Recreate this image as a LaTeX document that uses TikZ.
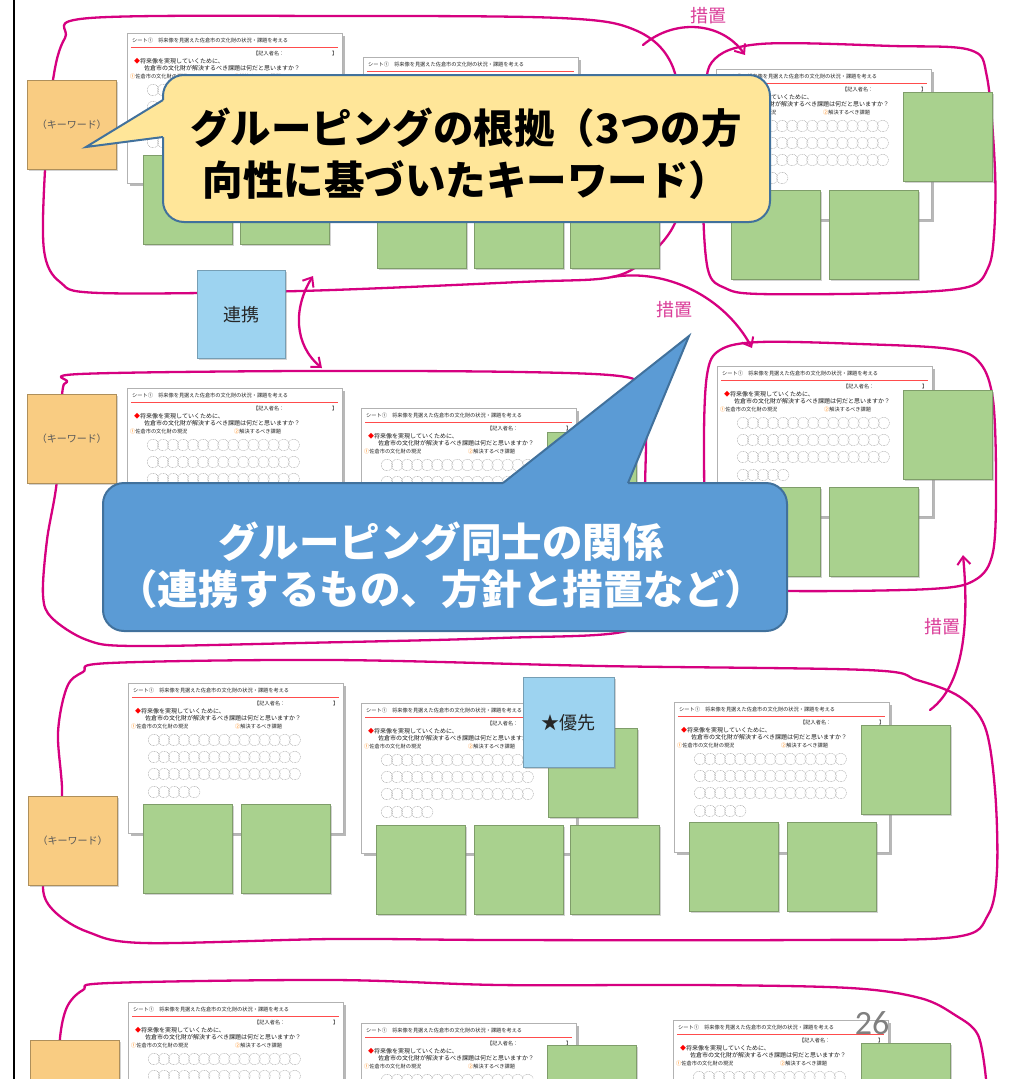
\documentclass[tikz,border=0pt]{standalone}
\usepackage{fontspec}
\setmainfont{Noto Sans CJK JP}
\newfontfamily\carl{Carlito}
\usetikzlibrary{shadows,arrows.meta}
\definecolor{magc}{RGB}{214,0,128}
\definecolor{magt}{RGB}{218,60,152}
\definecolor{noteg}{RGB}{169,209,142}
\definecolor{kwc}{RGB}{249,204,130}
\definecolor{lblue}{RGB}{157,211,240}
\definecolor{cyel}{RGB}{255,230,153}
\definecolor{cblue}{RGB}{91,155,213}
\definecolor{cbord}{RGB}{65,113,156}
\tikzset{
  magline/.style={draw=magc, line width=2.3pt, line cap=round, line join=round},
  magarrow/.style={magline, -{Straight Barb[length=8pt,width=13pt,line width=2pt]}},
  sheetbox/.style={draw=black!30, line width=0.5pt, fill=white, minimum width=215pt, minimum height=150pt,
    anchor=north west, inner sep=0pt,
    drop shadow={shadow xshift=3pt, shadow yshift=-3pt, fill=black!55, opacity=0.5}},
  wsA/.style={anchor=west, inner sep=0pt, font=\fontsize{5.2}{6}\selectfont, text=black!85},
  wsB/.style={anchor=west, inner sep=0pt, font=\fontsize{6}{7}\selectfont, text=black!90},
  circ/.style={draw=black!40, line width=0.35pt, dash pattern=on 0.9pt off 0.7pt},
  gnote/.style={fill=noteg, draw=noteg!75!black, line width=0.4pt, minimum width=89pt, minimum height=89pt,
    anchor=north west, inner sep=0pt,
    drop shadow={shadow xshift=2pt, shadow yshift=-2pt, fill=black!50, opacity=0.35}},
  kwnote/.style={fill=kwc, draw=kwc!70!black, line width=0.5pt, minimum width=89pt, minimum height=89pt,
    anchor=north west, inner sep=0pt, font=\fontsize{10}{10}\selectfont, text=black!65,
    drop shadow={shadow xshift=2pt, shadow yshift=-2pt, fill=black!50, opacity=0.35}},
  bnote/.style={fill=lblue, draw=lblue!75!black, line width=0.4pt, minimum width=88pt, minimum height=88pt,
    anchor=north west, inner sep=0pt, font=\fontsize{18}{18}\selectfont, text=black!85,
    drop shadow={shadow xshift=2pt, shadow yshift=-2pt, fill=black!50, opacity=0.35}},
  sochi/.style={text=magt, font=\fontsize{18}{18}\selectfont, inner sep=0pt},
  callbox/.style={draw=cbord, line width=2pt, rounded corners=21pt, inner sep=0pt}
}
\newcommand{\wsheet}[3]{%
  \node[sheetbox] (#1) at (#2,#3) {};
  \begin{scope}[shift={(#2,#3)}]
    \node[wsA] (#1h) at (5,8) {シート①　将来像を見据えた佐倉市の文化財の状況・課題を考える};
    \draw[red!70, line width=0.7pt] (4,14.5) -- (211,14.5);
    \node[wsA] (#1n) at (126,21) {【記入者名：};
    \node[wsA] (#1e) at (205,21) {】};
    \node[wsB] (#1q) at (7,28) {\textcolor{red}{◆}将来像を実現していくために、};
    \node[wsB] (#1r) at (17,35.5) {佐倉市の文化財が解決するべき課題は何だと思いますか？};
    \node[wsA] (#1a) at (3,43.5) {\textcolor{orange}{①}佐倉市の文化財の現況};
    \node[wsA] (#1b) at (107,43.5) {\textcolor{orange}{②}解決するべき課題};
    \foreach \rr in {57,74,91}{\foreach \cc in {0,...,14}{\draw[circ] (26+\cc*10.05,\rr) circle[radius=5.7pt];}}
    \foreach \cc in {0,...,4}{\draw[circ] (26+\cc*10.05,109) circle[radius=5.7pt];}
  \end{scope}}
\begin{document}
\begin{tikzpicture}[x=1pt,y=-1pt]
\useasboundingbox (0,0) rectangle (1009,1079);
\clip (0,0) rectangle (1009,1079);
\fill[white] (0,0) rectangle (1009,1079);

% ---------- loops ----------
\draw[magline] plot[smooth cycle, tension=0.55] coordinates {
 (90,18) (340,16) (560,18) (635,30) (672,65) (684,140) (678,215) (650,255) (612,277)
 (520,282) (300,291) (100,293) (60,282) (44,250) (45,170) (53,80) (65,38)};
\draw[magline] plot[smooth cycle, tension=0.55] coordinates {
 (760,44) (893,46) (970,50) (987,77) (995,170) (994,235) (988,268) (968,287) (893,293)
 (760,294) (725,288) (708,270) (703,200) (706,110) (712,62)};
\draw[magline] plot[smooth cycle, tension=0.55] coordinates {
 (80,374) (300,371) (520,372) (626,377) (642,394) (646,430) (645,490) (644,590) (630,630)
 (500,638) (300,643) (133,646) (87,640) (52,618) (43,595) (47,540) (57,480) (62,395) (67,382)};
\draw[magline] plot[smooth cycle, tension=0.55] coordinates {
 (760,342) (860,344) (950,349) (980,363) (993,400) (996,480) (993,552) (975,580) (930,589)
 (790,591) (730,586) (708,562) (704,450) (707,375) (720,350)};
\draw[magline] plot[smooth cycle, tension=0.55] coordinates {
 (110,663) (333,660) (600,666) (867,670) (917,680) (960,697) (985,727) (995,790) (997,870)
 (988,915) (955,937) (800,940) (500,940) (333,939) (144,943) (88,932) (55,912) (43,888)
 (52,840) (62,796) (58,733) (67,687) (83,672)};
\draw[magline] plot[smooth, tension=0.55] coordinates {
 (60,1079) (60,1038) (67,1007) (83,990) (110,983) (333,980) (500,985) (700,985) (850,988)
 (920,998) (955,1015) (978,1035) (986,1079)};

% ---------- arrows ----------
\coordinate (a1s) at (643,45);  \coordinate (a1e) at (745,55);
\coordinate (a2s) at (612,277); \coordinate (a2e) at (752,348);
\coordinate (a3s) at (930,710); \coordinate (a3e) at (963,555);
\coordinate (r1) at (313,276);  \coordinate (r2) at (322,368);
\draw[magarrow] (a1s) .. controls (675,18) and (722,22) .. (a1e);
\draw[magarrow] (a2s) .. controls (668,268) and (725,298) .. (a2e);
\draw[magarrow] (a3s) .. controls (968,682) and (968,610) .. (a3e);
\draw[magline, {Straight Barb[length=8pt,width=13pt,line width=2pt]}-{Straight Barb[length=8pt,width=13pt,line width=2pt]}]
  (r1) .. controls (293,308) and (294,345) .. (r2);
\node[sochi] (s1) at (708,16) {措置};
\node[sochi] (s2) at (674,310) {措置};
\node[sochi] (s3) at (942,627) {措置};

% ---------- sheets ----------
\wsheet{A1}{127}{33}
\wsheet{A2}{363}{57}
\wsheet{A3}{716}{69}
\wsheet{B1}{127}{388}
\wsheet{B2}{361}{408}
\wsheet{B3}{717}{366}
\wsheet{C1}{128}{683}
\wsheet{C2}{361}{703}
\wsheet{C3}{674}{702}
\wsheet{D1}{128}{1002}
\wsheet{D2}{361}{1023}
\wsheet{D3}{673}{1020}

% ---------- green notes ----------
\node[gnote] (gA1a) at (143,155) {};
\node[gnote] (gA1b) at (240,155) {};
\node[gnote] (gA2a) at (377,179) {};
\node[gnote] (gA2b) at (474,179) {};
\node[gnote] (gA2c) at (570,179) {};
\node[gnote] (gA3r) at (903,92) {};
\node[gnote] (gA3a) at (731,190) {};
\node[gnote] (gA3b) at (829,190) {};
\node[gnote] (gB2r) at (547,432) {};
\node[gnote] (gB3r) at (903,390) {};
\node[gnote] (gB3a) at (731,487) {};
\node[gnote] (gB3b) at (829,487) {};
\node[gnote] (gC1a) at (143,804) {};
\node[gnote] (gC1b) at (241,804) {};
\node[gnote] (gC2r) at (548,728) {};
\node[gnote] (gC2a) at (376,825) {};
\node[gnote] (gC2b) at (474,825) {};
\node[gnote] (gC2c) at (570,825) {};
\node[gnote] (gC3r) at (861,725) {};
\node[gnote] (gC3a) at (689,822) {};
\node[gnote] (gC3b) at (787,822) {};
\node[gnote] (gD2r) at (547,1045) {};
\node[gnote] (gD3r) at (861,1043) {};

% ---------- keyword and blue notes ----------
\node[kwnote] (k1) at (27,80) {（キーワード）};
\node[kwnote] (k2) at (27,394) {（キーワード）};
\node[kwnote] (k3) at (28,796) {（キーワード）};
\node[kwnote] (k4) at (30,1040) {};
\node[bnote] (ren) at (197,270) {連携};
\node[bnote, minimum width=91pt, minimum height=90pt] (yu) at (523,677) {★優先};

% ---------- yellow callout ----------
\node[callbox, fill=cyel, minimum width=607pt, minimum height=147pt] (cy) at (466.5,148.5) {};
\fill[cyel] (86,147) -- (163,137) -- (168,137) -- (168,100) -- (163,100) -- cycle;
\draw[cbord, line width=2pt, line join=miter] (163,100) -- (86,147) -- (163,137);
\node[align=center, font=\fontsize{40.5}{52}\selectfont\bfseries, text=black] (cyt) at (466,154)
  {グルーピングの根拠（3つの方\\向性に基づいたキーワード）};

% ---------- blue callout ----------
\node[callbox, fill=cblue, minimum width=684pt, minimum height=148pt] (cb) at (445,557) {};
\fill[cblue] (503,483) -- (689,336) -- (628,483) -- (628,488) -- (503,488) -- cycle;
\draw[cbord, line width=2pt, line join=miter] (503,483) -- (689,336) -- (628,483);
\node[align=center, font=\fontsize{40.5}{47}\selectfont\bfseries, text=white] (cbt) at (441,565)
  {グルーピング同士の関係\\（連携するもの、方針と措置など）};

% ---------- page number & frame ----------
\node[text=black!50, font=\carl\fontsize{34}{34}\selectfont, inner sep=0pt] (pg) at (872,1023) {26};
\draw[black, line width=2pt] (14,0) -- (14,1079);
\end{tikzpicture}
\end{document}
